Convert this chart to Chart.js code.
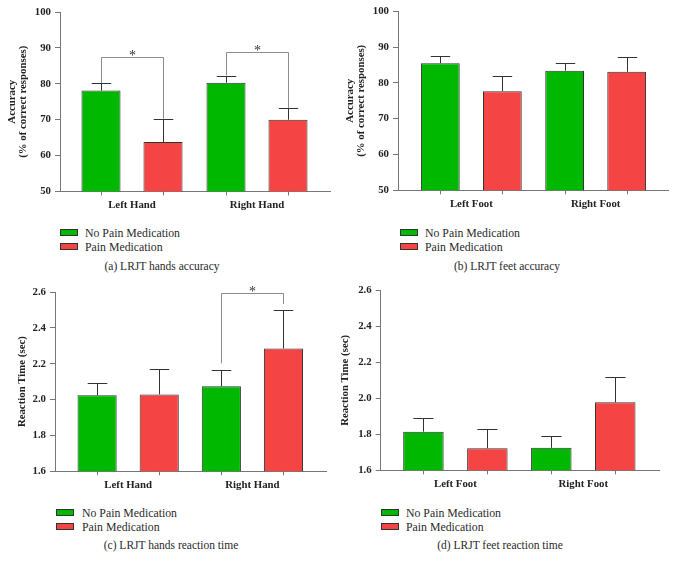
<!DOCTYPE html>
<html>
<head>
<meta charset="utf-8">
<script src="https://cdn.jsdelivr.net/npm/chart.js@4.4.0/dist/chart.umd.min.js"></script>
<style>
    body { margin: 0; background: #fff; }
    #wrap { position: relative; width: 676px; height: 567px; font-family: "Liberation Serif", "DejaVu Serif", serif; color: #2a2a2a; }
    #wrap canvas { position: absolute; }
    .lg-box { position: absolute; width: 16px; height: 5px; border: 1px solid #333; }
    .lg-text { position: absolute; font-size: 11.8px; line-height: 14px; white-space: nowrap; }
    .caption { position: absolute; font-size: 11.5px; line-height: 14px; white-space: nowrap; transform: translateX(-50%); }
</style>
</head>
<body>
<div id="wrap">
    <canvas id="chartA" width="338" height="215" style="left:0;top:0"></canvas>
    <canvas id="chartB" width="338" height="215" style="left:338px;top:0"></canvas>
    <canvas id="chartC" width="338" height="215" style="left:0;top:280px"></canvas>
    <canvas id="chartD" width="338" height="215" style="left:338px;top:280px"></canvas>
</div>
<script>
const GREEN = '#00b800';
const RED = '#f44444';
const FONT = '"Liberation Serif", "DejaVu Serif", serif';

const seriesNames = ['No Pain Medication', 'Pain Medication'];
const handCategories = ['Left Hand', 'Right Hand'];
const footCategories = ['Left Foot', 'Right Foot'];

const accTicks = [50, 60, 70, 80, 90, 100];
const rtTicks = [1.6, 1.8, 2.0, 2.2, 2.4, 2.6];

// (a) hands accuracy (% correct)
const handAccNoMed = [78.1, 80.3];
const handAccNoMedErr = [2.1, 2.0];
const handAccMed = [63.8, 70.0];
const handAccMedErr = [6.5, 3.3];

// (b) feet accuracy (% correct)
const footAccNoMed = [85.5, 83.4];
const footAccNoMedErr = [2.1, 2.2];
const footAccMed = [77.7, 83.1];
const footAccMedErr = [4.3, 4.2];

// (c) hands reaction time (sec)
const handRtNoMed = [2.024, 2.074];
const handRtNoMedErr = [0.068, 0.093];
const handRtMed = [2.029, 2.285];
const handRtMedErr = [0.143, 0.213];

// (d) feet reaction time (sec)
const footRtNoMed = [1.815, 1.725];
const footRtNoMedErr = [0.078, 0.067];
const footRtMed = [1.723, 1.978];
const footRtMedErr = [0.105, 0.141];

// significance brackets: category, bracket level, leg ends (data units)
const handAccBrackets = [
    { cat: 0, level: 87.4, ends: [80.2, 70.3] },
    { cat: 1, level: 88.8, ends: [82.3, 73.3] }
];
const handRtBrackets = [
    { cat: 1, level: 2.596, ends: [2.202, 2.533] }
];

// error bars, tick marks under bars, brackets with stars
const extrasPlugin = {
    id: 'extras',
    afterDatasetsDraw(chart, args, opts) {
        const ctx = chart.ctx;
        const yScale = chart.scales.y;
        const area = chart.chartArea;
        ctx.save();
        ctx.lineWidth = 1;
        chart.data.datasets.forEach((ds, di) => {
            const meta = chart.getDatasetMeta(di);
            meta.data.forEach((bar, i) => {
                const x = Math.round(bar.x) + 0.5;
                ctx.strokeStyle = '#777';
                ctx.beginPath();
                ctx.moveTo(x, area.bottom);
                ctx.lineTo(x, area.bottom + 4);
                ctx.stroke();

                const top = Math.round(yScale.getPixelForValue(ds.data[i].y + ds.errors[i])) + 0.5;
                const half = bar.width / 4;
                ctx.strokeStyle = '#333';
                ctx.beginPath();
                ctx.moveTo(x, bar.y);
                ctx.lineTo(x, top);
                ctx.moveTo(x - half, top);
                ctx.lineTo(x + half, top);
                ctx.stroke();
            });
        });

        (opts.brackets || []).forEach(b => {
            const x0 = Math.round(chart.getDatasetMeta(0).data[b.cat].x) + 0.5;
            const x1 = Math.round(chart.getDatasetMeta(1).data[b.cat].x) + 0.5;
            const yl = Math.round(yScale.getPixelForValue(b.level)) + 0.5;
            ctx.strokeStyle = '#8c8c8c';
            ctx.beginPath();
            ctx.moveTo(x0, yScale.getPixelForValue(b.ends[0]));
            ctx.lineTo(x0, yl);
            ctx.lineTo(x1, yl);
            ctx.lineTo(x1, yScale.getPixelForValue(b.ends[1]));
            ctx.stroke();
            ctx.fillStyle = '#333';
            ctx.font = '14px ' + FONT;
            ctx.textAlign = 'center';
            ctx.textBaseline = 'alphabetic';
            ctx.fillText('*', (x0 + x1) / 2, yl + 2);
        });
        ctx.restore();
    }
};

function makePanel(p) {
    const ctx = document.getElementById(p.id).getContext('2d');
    const tickFont = { family: FONT, size: 10.8, weight: 'bold' };
    return new Chart(ctx, {
        type: 'bar',
        data: {
            datasets: [
                {
                    label: seriesNames[0],
                    data: p.cats.map((c, i) => ({ x: i, y: p.values[0][i] })),
                    errors: p.errors[0],
                    backgroundColor: GREEN,
                    borderColor: '#333',
                    borderWidth: 1
                },
                {
                    label: seriesNames[1],
                    data: p.cats.map((c, i) => ({ x: i, y: p.values[1][i] })),
                    errors: p.errors[1],
                    backgroundColor: RED,
                    borderColor: '#333',
                    borderWidth: 1
                }
            ]
        },
        options: {
            responsive: false,
            animation: false,
            events: [],
            categoryPercentage: p.catPct,
            barPercentage: p.barPct,
            layout: { padding: { top: p.padTop, right: p.padRight, left: 0, bottom: 0 } },
            plugins: {
                legend: { display: false },
                tooltip: { enabled: false },
                extras: { brackets: p.brackets }
            },
            scales: {
                x: {
                    type: 'linear',
                    offset: false,
                    min: p.xMin,
                    max: p.xMax,
                    afterBuildTicks: s => { s.ticks = p.cats.map((c, i) => ({ value: i })); },
                    afterFit: s => { s.height = p.xHeight; },
                    grid: { display: false, drawTicks: false },
                    border: { display: true, color: '#777', width: 1 },
                    ticks: {
                        padding: 7,
                        color: '#222',
                        font: tickFont,
                        maxRotation: 0,
                        autoSkip: false,
                        callback: v => p.cats[v] || ''
                    }
                },
                y: {
                    min: p.yTicks[0],
                    max: p.yTicks[p.yTicks.length - 1],
                    afterBuildTicks: s => { s.ticks = p.yTicks.map(v => ({ value: v })); },
                    afterFit: s => { s.width = p.yWidth; },
                    grid: { drawOnChartArea: false, drawTicks: true, tickLength: 5, color: '#777' },
                    border: { display: true, color: '#777', width: 1 },
                    ticks: {
                        padding: 4,
                        color: '#222',
                        font: tickFont,
                        callback: v => p.fmt(v)
                    },
                    title: {
                        display: true,
                        text: p.yTitle,
                        color: '#222',
                        font: { family: FONT, size: 10.8, weight: 'bold', lineHeight: 1.05 },
                        padding: { top: p.titlePad, bottom: 0 }
                    }
                }
            }
        },
        plugins: [extrasPlugin]
    });
}

function addLegend(left, top, textLeft) {
    const wrap = document.getElementById('wrap');
    [GREEN, RED].forEach((col, i) => {
        const box = document.createElement('div');
        box.className = 'lg-box';
        box.style.left = left + 'px';
        box.style.top = (top + i * 14) + 'px';
        box.style.background = col;
        wrap.appendChild(box);
        const txt = document.createElement('div');
        txt.className = 'lg-text';
        txt.style.left = textLeft + 'px';
        txt.style.top = (top - 3 + i * 14) + 'px';
        txt.textContent = seriesNames[i];
        wrap.appendChild(txt);
    });
}

function addCaption(text, cx, cy) {
    const el = document.createElement('div');
    el.className = 'caption';
    el.style.left = cx + 'px';
    el.style.top = (cy - 7) + 'px';
    el.textContent = text;
    document.getElementById('wrap').appendChild(el);
}

const accFmt = v => String(v);
const rtFmt = v => v.toFixed(1);

makePanel({
    id: 'chartA', cats: handCategories,
    values: [handAccNoMed, handAccMed], errors: [handAccNoMedErr, handAccMedErr],
    yTicks: accTicks, fmt: accFmt, yTitle: ['Accuracy', '(% of correct responses)'],
    brackets: handAccBrackets,
    xMin: -0.576, xMax: 1.584, catPct: 0.992, barPct: 0.63,
    padTop: 12, padRight: 8, yWidth: 60, xHeight: 23.5, titlePad: 6.5
});
makePanel({
    id: 'chartB', cats: footCategories,
    values: [footAccNoMed, footAccMed], errors: [footAccNoMedErr, footAccMedErr],
    yTicks: accTicks, fmt: accFmt, yTitle: ['Accuracy', '(% of correct responses)'],
    brackets: [],
    xMin: -0.59, xMax: 1.582, catPct: 0.998, barPct: 0.625,
    padTop: 11.3, padRight: 8, yWidth: 60, xHeight: 24.7, titlePad: 6.5
});
makePanel({
    id: 'chartC', cats: handCategories,
    values: [handRtNoMed, handRtMed], errors: [handRtNoMedErr, handRtMedErr],
    yTicks: rtTicks, fmt: rtFmt, yTitle: 'Reaction Time (sec)',
    brackets: handRtBrackets,
    xMin: -0.589, xMax: 1.598, catPct: 1.0, barPct: 0.63,
    padTop: 12, padRight: 11.3, yWidth: 55, xHeight: 23.7, titlePad: 16.5
});
makePanel({
    id: 'chartD', cats: footCategories,
    values: [footRtNoMed, footRtMed], errors: [footRtNoMedErr, footRtMedErr],
    yTicks: rtTicks, fmt: rtFmt, yTitle: 'Reaction Time (sec)',
    brackets: [],
    xMin: -0.584, xMax: 1.592, catPct: 1.0, barPct: 0.633,
    padTop: 6, padRight: 17, yWidth: 42.7, xHeight: 24.7, titlePad: 1.8
});

addLegend(60, 229, 85);
addLegend(400, 229, 425);
addLegend(56, 509, 82);
addLegend(381, 509, 406);

addCaption('(a)  LRJT hands accuracy', 162, 266);
addCaption('(b)  LRJT feet accuracy', 507, 266);
addCaption('(c)  LRJT hands reaction time', 171, 545);
addCaption('(d)  LRJT feet reaction time', 500, 545);
</script>
</body>
</html>
